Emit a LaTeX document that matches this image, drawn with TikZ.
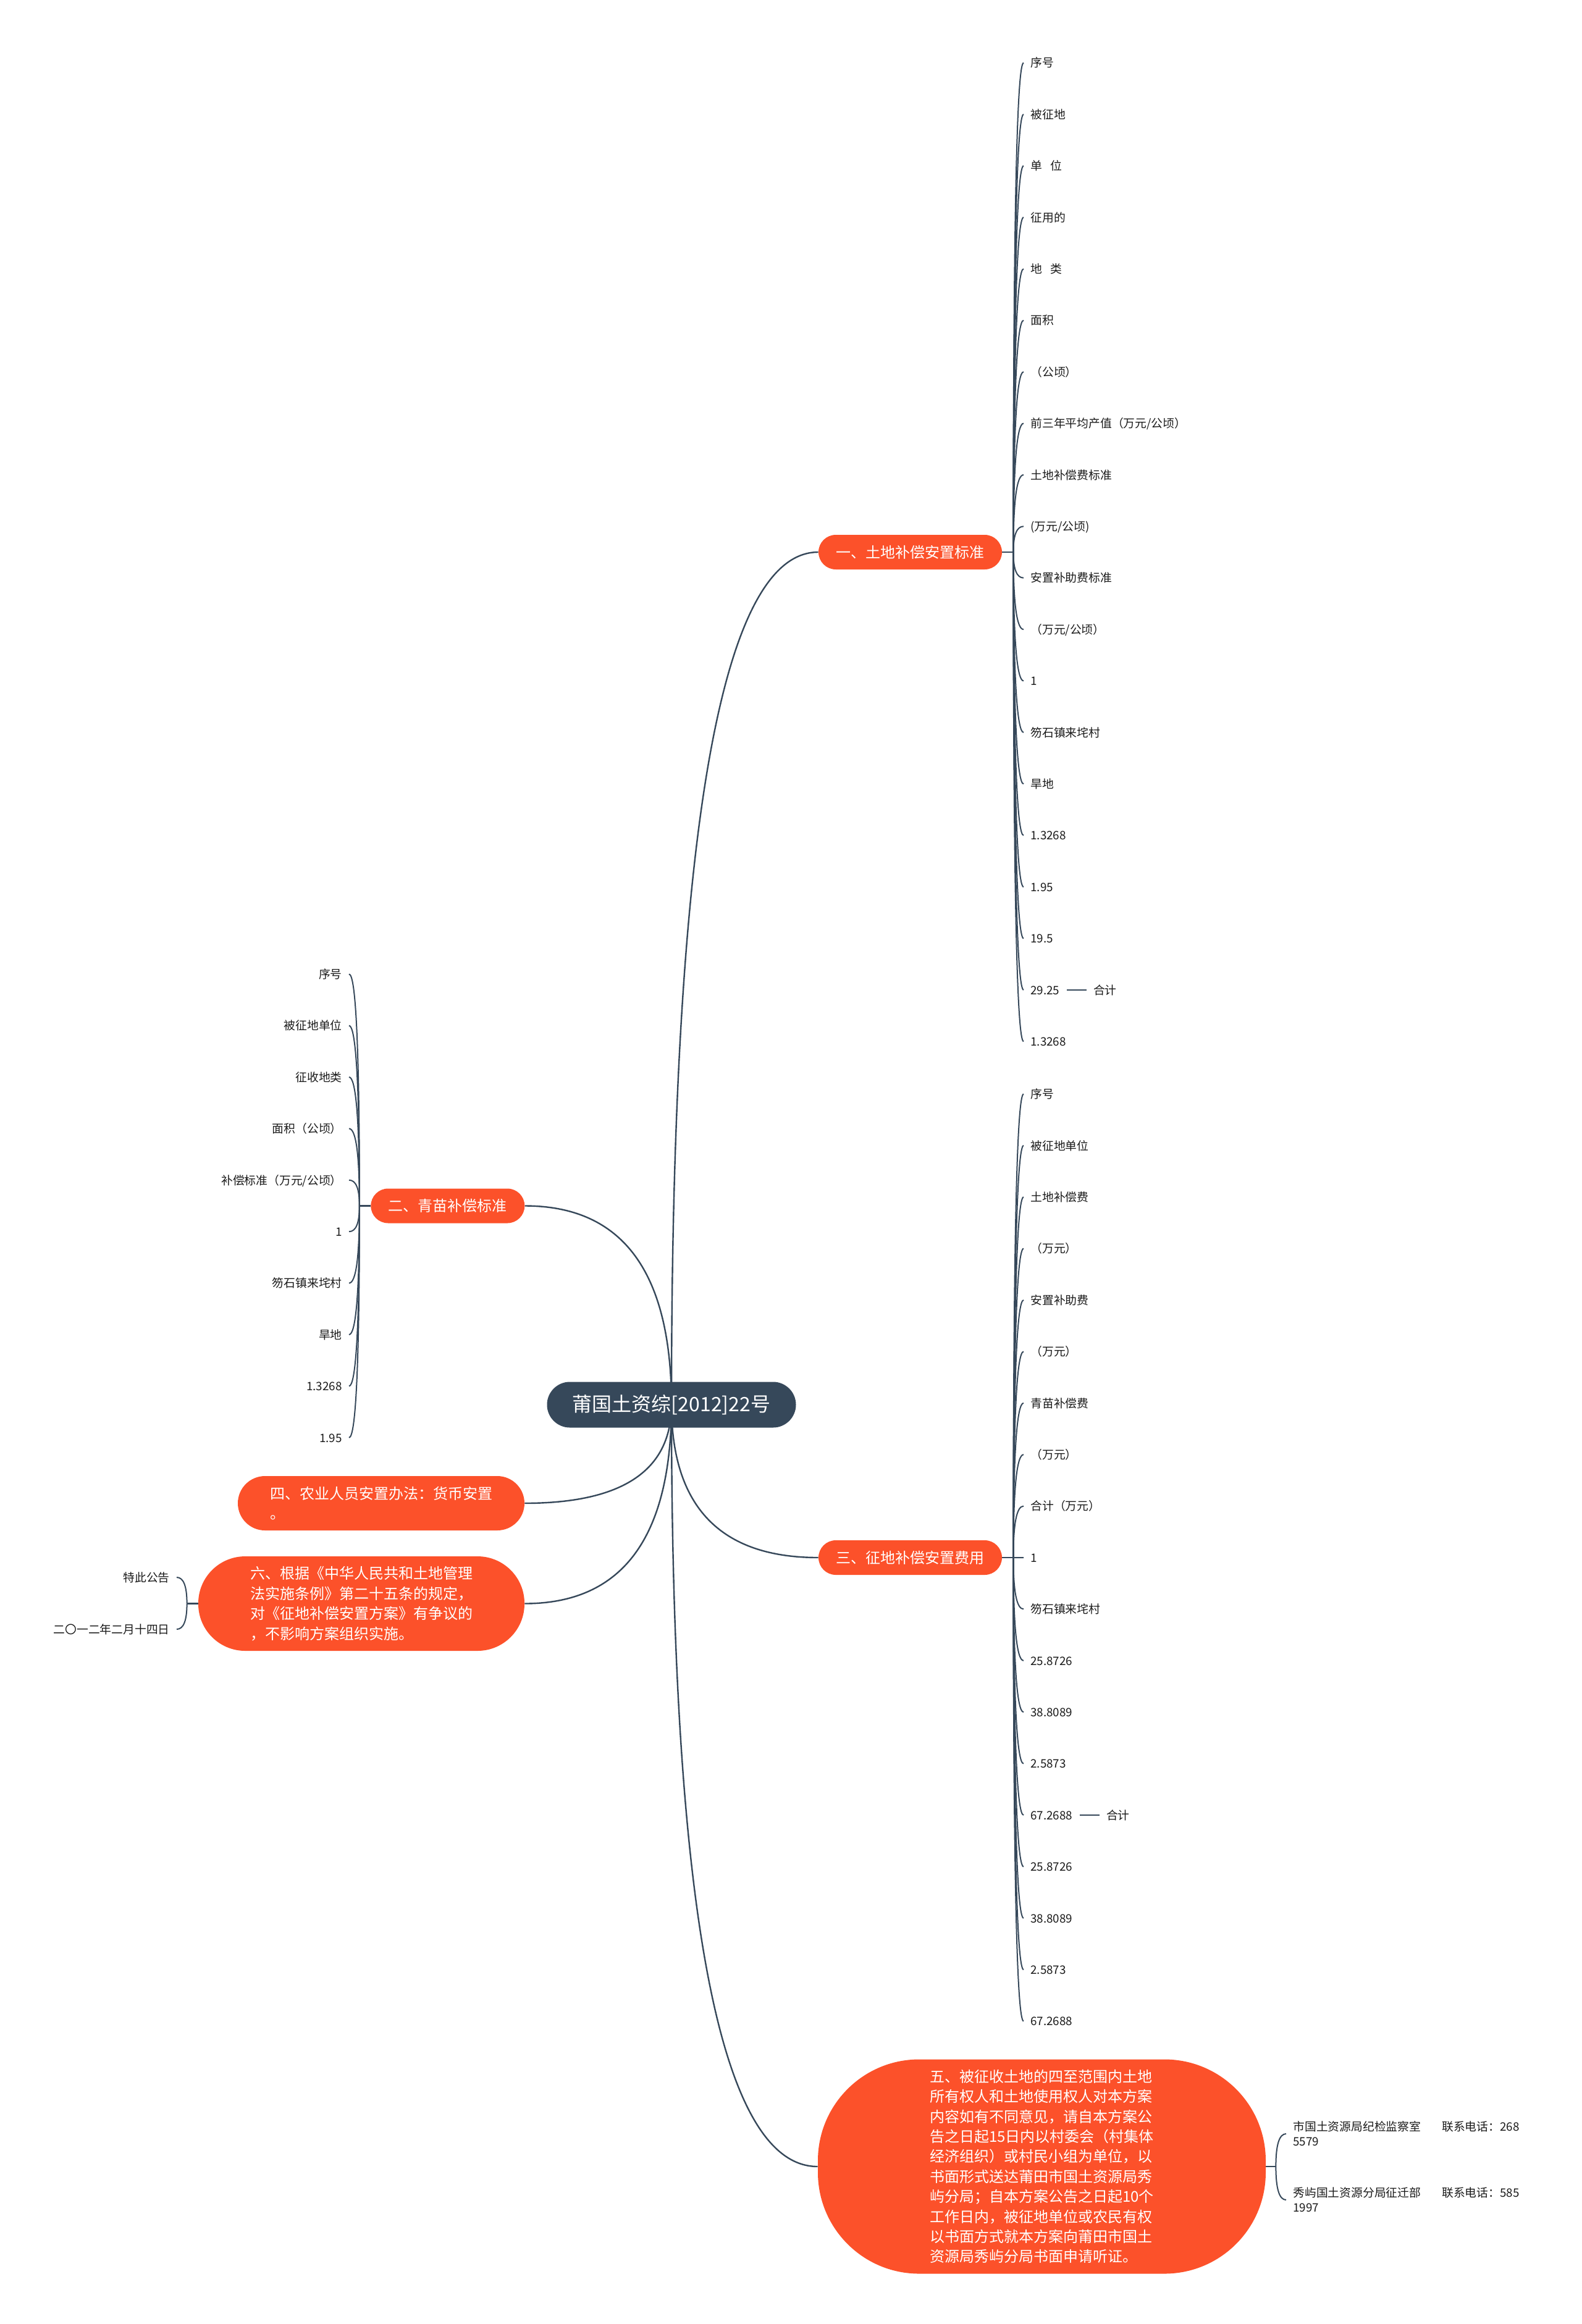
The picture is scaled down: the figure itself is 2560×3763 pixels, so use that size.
\documentclass[tikz,border=0pt]{standalone}
\usepackage{fontspec}
\setmainfont{Noto Sans CJK SC}
\usepackage{xcolor}
\definecolor{gtSlate}  {RGB}{ 54,  72,  90}
\definecolor{gtOrange} {RGB}{252,  81,  42}
\definecolor{gtInk}    {RGB}{ 26,  26,  26}
\definecolor{gtOnDark} {RGB}{255, 255, 255}
\usepackage{tikz}
\usetikzlibrary{
  positioning,
  calc,
  backgrounds,
}

\begin{document}
\begin{tikzpicture}[
  x=0.5pt, y=-0.5pt,
  topic/.style  ={fill=gtSlate, text=gtOnDark, rounded corners=18.5pt,
                  minimum width=201.5pt, minimum height=37pt, inner sep=0pt,
                  font=\fontsize{16pt}{19pt}\selectfont},
  branch/.style ={fill=gtOrange, text=gtOnDark, inner sep=0pt,
                  minimum width=148.5pt, minimum height=28pt, rounded corners=14pt,
                  font=\fontsize{12pt}{16.2pt}\selectfont},
  leafbox/.style={text=gtInk, inner xsep=5.5pt, inner ysep=0pt,
                  text height=8.3pt, text depth=1.1pt,
                  font=\fontsize{9.4pt}{12pt}\selectfont},
  notebox/.style={text=gtInk, inner xsep=5.5pt, inner ysep=0pt, align=left,
                  font=\fontsize{9.4pt}{12pt}\selectfont},
  link/.style   ={draw=gtSlate, line width=1.2pt},
  twig/.style   ={draw=gtSlate, line width=1pt},
  curvy/.style  ={to path={.. controls ($(\tikztostart)!.667!(\tikztostart |- \tikztotarget)$)
                           and ($(\tikztotarget)!.667!(\tikztostart |- \tikztotarget)$)
                           .. (\tikztotarget) \tikztonodes}},
]
  \useasboundingbox (0,0) rectangle (2560,3763);

  % centre topic and the six main branches
  \node[topic] (root) at (1087,2274.5) {莆国土资综[2012]22号};

  \node[branch] (tudi)     at (1473.5, 894)   {一、土地补偿安置标准};
  \node[branch, minimum width=124.5pt] (qingmiao) at (724.8,1952.5) {二、青苗补偿标准};
  \node[branch] (feiyong)  at (1473.5,2522)   {三、征地补偿安置费用};
  \node[branch, minimum width=232pt, minimum height=44pt, rounded corners=22pt,
        align=left] (anzhi) at (617,2434) {四、农业人员安置办法：货币安置\\。};
  \node[branch, minimum width=362.5pt, minimum height=173.5pt, rounded corners=82pt,
        align=left] (tingzheng) at (1686.5,3508)
    {五、被征收土地的四至范围内土地\\
     所有权人和土地使用权人对本方案\\
     内容如有不同意见，请自本方案公\\
     告之日起15日内以村委会（村集体\\
     经济组织）或村民小组为单位，以\\
     书面形式送达莆田市国土资源局秀\\
     屿分局；自本方案公告之日起10个\\
     工作日内，被征地单位或农民有权\\
     以书面方式就本方案向莆田市国土\\
     资源局秀屿分局书面申请听证。};
  \node[branch, minimum width=264pt, minimum height=76.5pt, rounded corners=38pt,
        align=left] (yiju) at (585,2596.5)
    {六、根据《中华人民共和土地管理\\
     法实施条例》第二十五条的规定，\\
     对《征地补偿安置方案》有争议的\\
     ，不影响方案组织实施。};

  % fan-out points next to each branch
  \coordinate (tudiHub)      at ([xshift=9pt]tudi.east);
  \coordinate (qingmiaoHub)  at ([xshift=-9pt]qingmiao.west);
  \coordinate (feiyongHub)   at ([xshift=9pt]feiyong.east);
  \coordinate (yijuHub)      at ([xshift=-9pt]yiju.west);
  \coordinate (tingzhengHub) at ([xshift=8pt]tingzheng.east);

  % leaves of branch one
  \foreach \txt [count=\i from 0] in {序号, 被征地, 单\hspace{0.7em}位, 征用的,
      地\hspace{0.7em}类, 面积, （公顷）, {前三年平均产值（万元/公顷）}, 土地补偿费标准,
      {(万元/公顷)}, 安置补助费标准, {（万元/公顷）}, 1, 笏石镇来垞村, 旱地, 1.3268,
      1.95, 19.5, 29.25, 1.3268}
    \node[leafbox, anchor=west] (tudi\i) at (1657,{101.7+83.4*\i}) {\txt};
  \node[leafbox, right=16pt of tudi18] (tudiSum) {合计};

  % leaves of branch two
  \foreach \txt [count=\i from 0] in {序号, 被征地单位, 征收地类, 面积（公顷）,
      {补偿标准（万元/公顷）}, 1, 笏石镇来垞村, 旱地, 1.3268, 1.95}
    \node[leafbox, anchor=east] (qingmiao\i) at (565,{1577.2+83.4*\i}) {\txt};

  % leaves of branch three
  \foreach \txt [count=\i from 0] in {序号, 被征地单位, 土地补偿费, （万元）, 安置补助费,
      （万元）, 青苗补偿费, （万元）, 合计（万元）, 1, 笏石镇来垞村, 25.8726, 38.8089,
      2.5873, 67.2688, 25.8726, 38.8089, 2.5873, 67.2688}
    \node[leafbox, anchor=west] (feiyong\i) at (1657,{1771.4+83.4*\i}) {\txt};
  \node[leafbox, right=16pt of feiyong14] (feiyongSum) {合计};

  % leaves of branches five and six
  \node[notebox, anchor=west] (jiancha) at (2082,3455)
    {市国土资源局纪检监察室\hspace{17pt}联系电话：268\\5579};
  \node[notebox, anchor=west] (zhengqian) at (2082,3562)
    {秀屿国土资源分局征迁部\hspace{17pt}联系电话：585\\1997};
  \node[leafbox, anchor=east] (gonggao) at (286,2554) {特此公告};
  \node[leafbox, anchor=east] (riqi)    at (286,2638) {二〇一二年二月十四日};

  \begin{scope}[on background layer]
    % centre to branches
    \draw[link, curvy] (root.center) to (tudi.west);
    \draw[link, curvy] (root.center) to (qingmiao.east);
    \draw[link, curvy] (root.center) to (feiyong.west);
    \draw[link, curvy] (root.center) to (anzhi.east);
    \draw[link, curvy] (root.center) to (tingzheng.west);
    \draw[link, curvy] (root.center) to (yiju.east);

    % branch stubs
    \draw[link] (tudi.east) -- (tudiHub);
    \draw[link] (qingmiao.west) -- (qingmiaoHub);
    \draw[link] (feiyong.east) -- (feiyongHub);
    \draw[link] (yiju.west) -- (yijuHub);
    \draw[link] (tingzheng.east) -- (tingzhengHub);

    % brackets to the leaves
    \foreach \i in {0,...,19}
      \draw[twig, curvy] (tudiHub) to (tudi\i.west);
    \foreach \i in {0,...,9}
      \draw[twig, curvy] (qingmiaoHub) to (qingmiao\i.east);
    \foreach \i in {0,...,18}
      \draw[twig, curvy] (feiyongHub) to (feiyong\i.west);
    \draw[twig, curvy] (tingzhengHub) to (jiancha.west);
    \draw[twig, curvy] (tingzhengHub) to (zhengqian.west);
    \draw[twig, curvy] (yijuHub) to (gonggao.east);
    \draw[twig, curvy] (yijuHub) to (riqi.east);

    \draw[link] (tudi18) -- (tudiSum);
    \draw[link] (feiyong14) -- (feiyongSum);
  \end{scope}
\end{tikzpicture}
\end{document}
